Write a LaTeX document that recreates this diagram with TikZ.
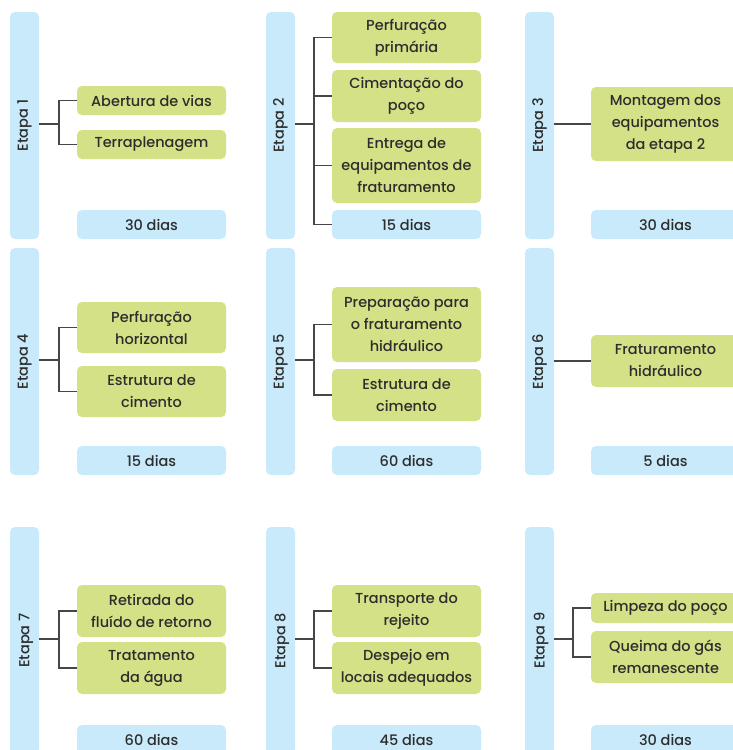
\documentclass[tikz,border=0pt]{standalone}
\usepackage{fontspec}
\setmainfont{Poppins Medium}
\definecolor{barblue}{RGB}{200,234,250}
\definecolor{boxgreen}{RGB}{213,225,135}
\definecolor{txt}{RGB}{45,45,45}
\definecolor{linec}{RGB}{70,70,70}
\begin{document}
\begin{tikzpicture}[x=1pt,y=-1pt,
  every node/.style={font=\fontsize{14.5}{22}\selectfont, text=txt, inner sep=0pt},
  bar/.style={fill=barblue, rounded corners=5pt, minimum width=29pt, minimum height=227pt},
  etapa/.style={rotate=90},
  gbox/.style={fill=boxgreen, rounded corners=5pt, minimum width=149pt, align=center},
  dbox/.style={fill=barblue, rounded corners=5pt, minimum width=149pt, minimum height=29pt},
  conn/.style={draw=linec, line width=1.2pt}]
\useasboundingbox (0,0) rectangle (733,750);
\clip (0,0) rectangle (733,750);
% ---------- bars ----------
\node[bar] (b1) at (24.5,125.5) {};
\node[bar] (b2) at (280.5,125.5) {};
\node[bar] (b3) at (539.5,125.5) {};
\node[bar] (b4) at (24.5,361.5) {};
\node[bar] (b5) at (280.5,361.5) {};
\node[bar] (b6) at (539.5,361.5) {};
\node[bar] (b7) at (24.5,640.5) {};
\node[bar] (b8) at (280.5,640.5) {};
\node[bar] (b9) at (539.5,640.5) {};
\node[etapa] at (b1) {Etapa 1};
\node[etapa] at (b2) {Etapa 2};
\node[etapa] at (b3) {Etapa 3};
\node[etapa] at (b4) {Etapa 4};
\node[etapa] at (b5) {Etapa 5};
\node[etapa] at (b6) {Etapa 6};
\node[etapa] at (b7.center) [yshift=-1.5pt] {Etapa 7};
\node[etapa] at (b8.center) [yshift=-1.5pt] {Etapa 8};
\node[etapa] at (b9.center) [yshift=-1.5pt] {Etapa 9};
% ---------- day boxes ----------
\node[dbox] (d1) at (151.5,224.5) {30 dias};
\node[dbox] (d2) at (406.5,224.5) {15 dias};
\node[dbox] (d3) at (665.5,224.5) {30 dias};
\node[dbox] (d4) at (151.5,460.5) {15 dias};
\node[dbox] (d5) at (406.5,460.5) {60 dias};
\node[dbox] (d6) at (665.5,460.5) {5 dias};
\node[dbox] (d7) at (151.5,739.5) {60 dias};
\node[dbox] (d8) at (406.5,739.5) {45 dias};
\node[dbox] (d9) at (665.5,739.5) {30 dias};
% ---------- green boxes ----------
\node[gbox, minimum height=29pt] (g11) at (151.5,100.5) {Abertura de vias};
\node[gbox, minimum height=29pt] (g12) at (151.5,144.5) {Terraplenagem};
\node[gbox, minimum height=51pt] (g21) at (406.5,37.5) {Perfuração\\primária};
\node[gbox, minimum height=52pt] (g22) at (406.5,96) {Cimentação do\\poço};
\node[gbox, minimum height=75pt] (g23) at (406.5,165.5) {Entrega de\\equipamentos de\\fraturamento};
\node[gbox, minimum height=74pt] (g31) at (665.5,124) {Montagem dos\\equipamentos\\da etapa 2};
\node[gbox, minimum height=51pt] (g41) at (151.5,327.5) {Perfuração\\horizontal};
\node[gbox, minimum height=51pt] (g42) at (151.5,391.5) {Estrutura de\\cimento};
\node[gbox, minimum height=75pt] (g51) at (406.5,324.5) {Preparação para\\o fraturamento\\hidráulico};
\node[gbox, minimum height=52pt] (g52) at (406.5,395) {Estrutura de\\cimento};
\node[gbox, minimum height=52pt] (g61) at (665.5,361) {Fraturamento\\hidráulico};
\node[gbox, minimum height=52pt] (g71) at (151.5,611) {Retirada do\\fluído de retorno};
\node[gbox, minimum height=52pt] (g72) at (151.5,668) {Tratamento\\da água};
\node[gbox, minimum height=52pt] (g81) at (406.5,611) {Transporte do\\rejeito};
\node[gbox, minimum height=52pt] (g82) at (406.5,668) {Despejo em\\locais adequados};
\node[gbox, minimum height=30pt] (g91) at (665.5,608) {Limpeza do poço};
\node[gbox, minimum height=52pt] (g92) at (665.5,657) {Queima do gás\\remanescente};
% ---------- junctions ----------
\coordinate (j1) at (59,124);
\coordinate (j2) at (314,124);
\coordinate (j4) at (59,360);
\coordinate (j5) at (314,360);
\coordinate (j7) at (59,639);
\coordinate (j8) at (314,639);
\coordinate (j9) at (573,639);
% ---------- connectors ----------
\draw[conn] (b1.east |- j1) -- (j1);
\draw[conn] (g11.west) -| (j1) |- (g12.west);
\draw[conn] (b2.east |- j2) -- (j2);
\draw[conn] (g21.west) -| (j2) |- (d2.west);
\draw[conn] (g22.west) -- (g22.west -| j2);
\draw[conn] (g23.west) -- (g23.west -| j2);
\draw[conn] (b3.east |- g31.west) -- (g31.west);
\draw[conn] (b4.east |- j4) -- (j4);
\draw[conn] (g41.west) -| (j4) |- (g42.west);
\draw[conn] (b5.east |- j5) -- (j5);
\draw[conn] (g51.west) -| (j5) |- (g52.west);
\draw[conn] (b6.east |- g61.west) -- (g61.west);
\draw[conn] (b7.east |- j7) -- (j7);
\draw[conn] (g71.west) -| (j7) |- (g72.west);
\draw[conn] (b8.east |- j8) -- (j8);
\draw[conn] (g81.west) -| (j8) |- (g82.west);
\draw[conn] (b9.east |- j9) -- (j9);
\draw[conn] (g91.west) -| (j9) |- (g92.west);
\end{tikzpicture}
\end{document}
